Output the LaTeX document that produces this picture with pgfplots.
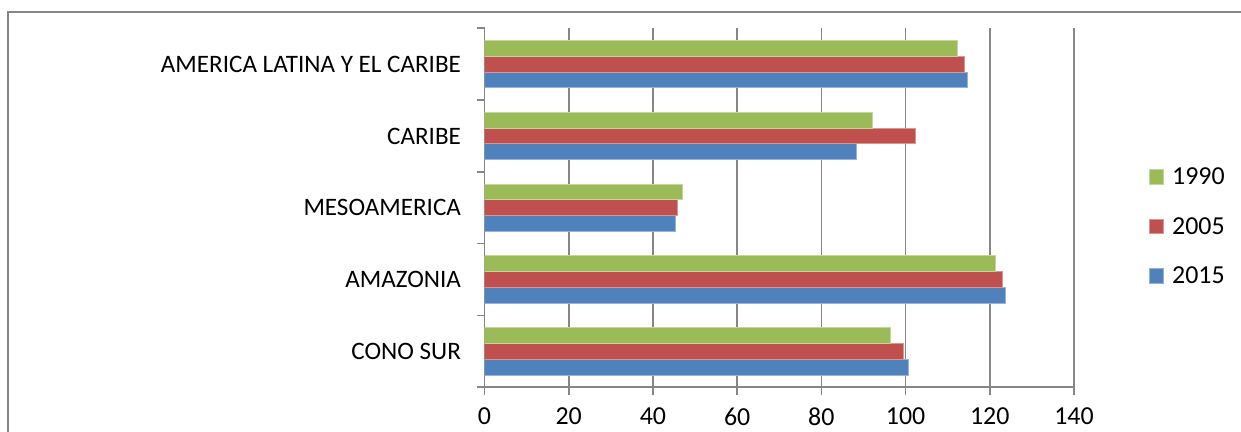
\documentclass[border=0pt]{standalone}
\usepackage{pgfplots}
\pgfplotsset{compat=1.18}
\usepackage{fontspec}
\setmainfont{Carlito}
\definecolor{cgreen}{HTML}{9BBB59}
\definecolor{cred}{HTML}{C0504D}
\definecolor{cblue}{HTML}{4F81BD}
\definecolor{cgrid}{HTML}{868686}
\begin{document}
\begin{tikzpicture}
\useasboundingbox (0,0) rectangle (1241bp,432bp);
\draw[cgrid, line width=2bp] (8.3bp,0) -- (8.3bp,419.7bp) -- (1241bp,419.7bp);
\begin{axis}[
  at={(484.5bp,44.7bp)}, anchor=south west,
  scale only axis, width=589.5bp, height=359bp,
  xbar=0pt, bar width=15.8bp,
  xmin=0, xmax=140, ymin=-0.5, ymax=4.5,
  xtick={0,20,...,140},
  ytick={-0.5,0.5,1.5,2.5,3.5,4.5},
  yticklabels={{},{},{},{},{},{}},
  extra y ticks={0,1,2,3,4},
  extra y tick labels={CONO SUR, AMAZONIA, MESOAMERICA, CARIBE, AMERICA LATINA Y EL CARIBE},
  extra y tick style={grid=none, major tick length=0pt, tick style={draw=none},
    yticklabel style={xshift=-20bp, font=\fontsize{25.2}{30}\selectfont}},
  axis x line*=bottom, axis y line*=left,
  axis line style={cgrid, line width=1.6bp, -},
  xmajorgrids, major grid style={cgrid, line width=1.6bp},
  tick align=outside,
  major tick length=8bp,
  tick style={cgrid, line width=1.6bp},
  tick label style={font=\fontsize{26}{31}\selectfont, black},
  xticklabel style={yshift=-9bp},
  /pgf/number format/assume math mode=true,
  legend style={at={(1.1264,0.448)}, anchor=west, draw=none, fill=none,
    inner sep=0pt, row sep=31bp, column sep=8bp, nodes={inner sep=0pt},
    font=\fontsize{26}{31}\selectfont},
  legend image code/.code={\fill[#1] (0bp,-7.4bp) rectangle (14.7bp,7.4bp);},
  legend cell align=left,
  reverse legend,
]
\addplot[fill=cblue, draw=cblue!60!white, line width=0.8bp] coordinates {(100.6,0) (123.8,1) (45.3,2) (88.4,3) (114.7,4)};
\addplot[fill=cred, draw=cred!60!white, line width=0.8bp] coordinates {(99.5,0) (122.9,1) (45.7,2) (102.4,3) (113.9,4)};
\addplot[fill=cgreen, draw=cgreen!60!white, line width=0.8bp] coordinates {(96.3,0) (121.4,1) (47.0,2) (92.2,3) (112.4,4)};
\legend{2015,2005,1990}
\end{axis}
\end{tikzpicture}
\end{document}
